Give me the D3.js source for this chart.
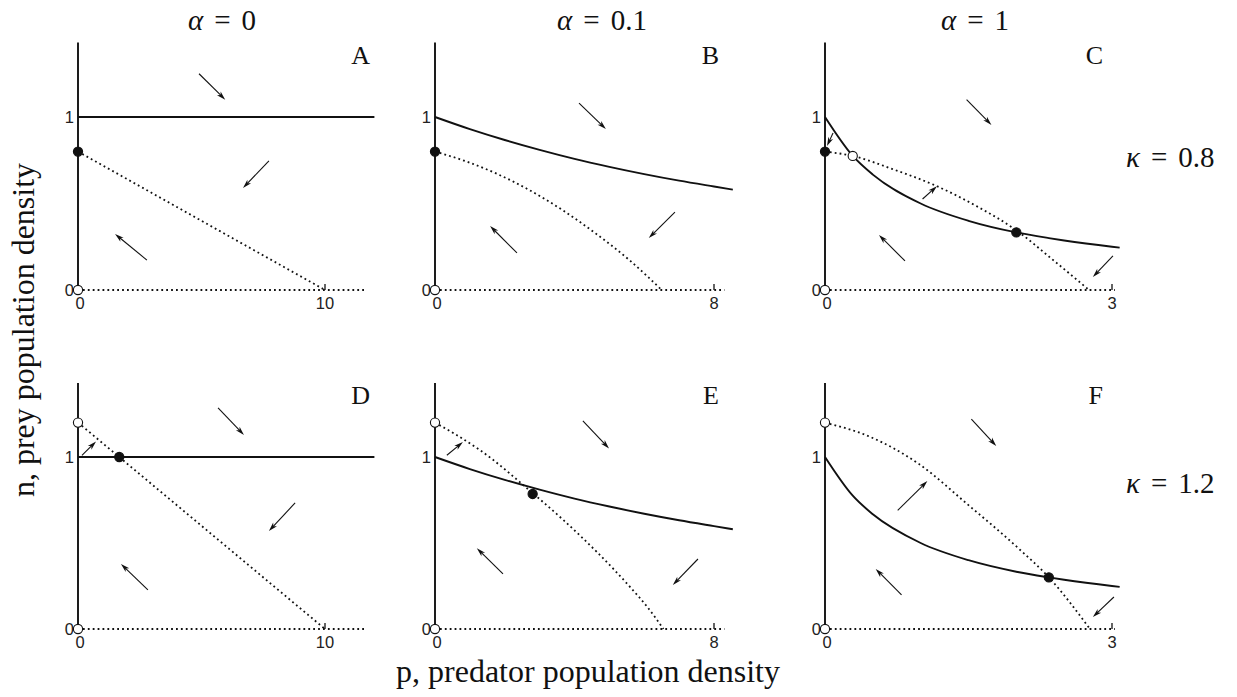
<!DOCTYPE html>
<html><head><meta charset="utf-8">
<script src="https://cdn.jsdelivr.net/npm/d3@7"></script>
<style>body{margin:0;background:#fff}svg{display:block}</style>
</head><body><svg id="c" width="1237" height="697"></svg>
<script>
// ---------- data ----------
const panelLetters = ["A","B","C","D","E","F"];
const alphaLabels = ["0","0.1","1"];
const kappaLabels = ["0.8","1.2"];
const xTickMax = [10, 8, 3];
const yTicks = [0, 1];
const baselineEnd = [11.7, 8.3, 3.03];
const nAxisTop = 1.43;

// prey isocline (solid)
const solidCol0 = [[0,1],[12,1]];
const solidCol1 = [[0,1],[1,0.93],[2,0.867],[3,0.81],[4,0.758],[5,0.712],[6,0.67],[7,0.632],[8,0.598],[8.54,0.58]];
const solidCol2 = [[0,1],[0.29,0.775],[0.5,0.667],[1,0.5],[1.5,0.4],[2,0.333],[2.34,0.3],[2.5,0.286],[3,0.25],[3.08,0.245]];

// predator isocline (dotted)
const dottedA = [[0,0.8],[10,0]];
const dottedB = [[0,0.8],[0.9,0.743],[1.77,0.672],[2.72,0.576],[3.67,0.46],[4.6,0.328],[5.59,0.17],[6.1,0.077],[6.5,0]];
const dottedC = [[0,0.8],[0.29,0.775],[0.7,0.7],[1.17,0.6],[1.6,0.48],[2.0,0.345],[2.37,0.18],[2.76,0]];
const dottedD = [[0,1.2],[10,0]];
const dottedE = [[0,1.2],[0.6,1.13],[1.29,1.04],[2.8,0.79],[3.7,0.63],[4.63,0.45],[5.59,0.245],[6.1,0.125],[6.55,0]];
const dottedF = [[0,1.2],[0.46,1.12],[0.98,0.96],[1.5,0.72],[2.02,0.47],[2.34,0.3],[2.77,0]];

// equilibria: [p, n, filled]
const eqA = [[0,0.8,1],[0,0,0]];
const eqB = [[0,0.8,1],[0,0,0]];
const eqC = [[0,0.8,1],[0.29,0.775,0],[2.0,0.333,1],[0,0,0]];
const eqD = [[0,1.2,0],[1.67,1.0,1],[0,0,0]];
const eqE = [[0,1.2,0],[2.8,0.785,1],[0,0,0]];
const eqF = [[0,1.2,0],[2.34,0.3,1],[0,0,0]];

// flow arrows: [p0, n0, p1, n1]
const arrA = [[4.9,1.25,5.96,1.10],[7.73,0.746,6.68,0.59],[2.79,0.173,1.5,0.324]];
const arrB = [[4.13,1.08,4.9,0.93],[6.88,0.45,6.13,0.30],[2.35,0.214,1.58,0.37]];
const arrC = [[1.48,1.10,1.74,0.954],[0.084,0.908,0.021,0.832],[1.02,0.526,1.17,0.60],[0.836,0.168,0.564,0.318],[3.01,0.197,2.80,0.075]];
const arrD = [[0.16,1.01,0.73,1.09],[5.67,1.285,6.72,1.128],[8.79,0.733,7.73,0.57],[2.83,0.227,1.74,0.378]];
const arrE = [[0.34,1.01,0.80,1.087],[4.24,1.21,4.99,1.05],[7.54,0.407,6.82,0.256],[1.95,0.32,1.20,0.47]];
const arrF = [[1.53,1.22,1.79,1.064],[0.76,0.69,1.07,0.86],[0.80,0.198,0.53,0.349],[3.02,0.186,2.80,0.07]];

const solids = [solidCol0, solidCol1, solidCol2];
const dotteds = [dottedA, dottedB, dottedC, dottedD, dottedE, dottedF];
const eqs = [eqA, eqB, eqC, eqD, eqE, eqF];
const arrows = [arrA, arrB, arrC, arrD, arrE, arrF];

// ---------- layout ----------
const colX = [[78,325],[435,714],[825,1112]];
const rowY = [[290,117],[629,457]];
const svg = d3.select("#c");
svg.append("rect").attr("width",1237).attr("height",697).attr("fill","#fff");

const serif = "Liberation Serif, Times New Roman, serif";
const sans = "Liberation Sans, Arial, sans-serif";
const ink = "#111";

for (let r = 0; r < 2; r++) {
  for (let c = 0; c < 3; c++) {
    const i = r*3 + c;
    const x = d3.scaleLinear().domain([0, xTickMax[c]]).range(colX[c]);
    const y = d3.scaleLinear().domain([0, 1]).range(rowY[r]);
    const g = svg.append("g");
    const line = d3.line().x(d => x(d[0])).y(d => y(d[1]));
    const curve = d3.line().x(d => x(d[0])).y(d => y(d[1])).curve(d3.curveMonotoneX);

    // baseline dotted (n = 0)
    g.append("path").attr("d", line([[0,0],[baselineEnd[c],0]]))
      .attr("fill","none").attr("stroke",ink).attr("stroke-width",1.8).attr("stroke-dasharray","1.8 3.1");
    // y axis (p = 0), solid
    g.append("path").attr("d", line([[0,0],[0,nAxisTop]]))
      .attr("fill","none").attr("stroke",ink).attr("stroke-width",1.9);
    // x tick at max
    g.append("line").attr("x1", x(xTickMax[c])).attr("x2", x(xTickMax[c]))
      .attr("y1", y(0)).attr("y2", y(0)-6).attr("stroke",ink).attr("stroke-width",1.3);
    // tick labels
    g.selectAll(".yt").data(yTicks).enter().append("text")
      .attr("x", x(0)-4).attr("y", d => y(d)+6)
      .attr("text-anchor","end").attr("font-family",sans).attr("font-size",16.5).attr("fill","#222")
      .text(d => d);
    g.selectAll(".xt").data([0, xTickMax[c]]).enter().append("text")
      .attr("x", d => x(d) + (d===0?2:0)).attr("y", y(0)+19)
      .attr("text-anchor","middle").attr("font-family",sans).attr("font-size",16.5).attr("fill","#222")
      .text(d => d);

    // predator isocline dotted
    g.append("path").attr("d", (c===0?line:curve)(dotteds[i]))
      .attr("fill","none").attr("stroke",ink).attr("stroke-width",1.8).attr("stroke-dasharray","1.8 3.1");
    // prey isocline solid
    g.append("path").attr("d", (c===0?line:curve)(solids[c]))
      .attr("fill","none").attr("stroke",ink).attr("stroke-width",1.9);

    // arrows
    arrows[i].forEach(a => {
      const x0 = x(a[0]), y0 = y(a[1]), x1 = x(a[2]), y1 = y(a[3]);
      const ang = Math.atan2(y1-y0, x1-x0);
      const L = 9, W = 2.6;
      const cs = Math.cos(ang), sn = Math.sin(ang);
      const bx = x1 - L*cs, by = y1 - L*sn;
      g.append("line").attr("x1",x0).attr("y1",y0).attr("x2",bx+3*cs).attr("y2",by+3*sn)
        .attr("stroke",ink).attr("stroke-width",1.1);
      const px = -sn, py = cs;
      g.append("path").attr("d", `M${x1},${y1}L${bx+W*px},${by+W*py}L${bx+2.5*cs},${by+2.5*sn}L${bx-W*px},${by-W*py}Z`)
        .attr("fill",ink);
    });

    // equilibria
    g.selectAll(".eq").data(eqs[i]).enter().append("circle")
      .attr("cx", d => x(d[0])).attr("cy", d => y(d[1])).attr("r", 4.6)
      .attr("fill", d => d[2] ? ink : "#fff").attr("stroke",ink).attr("stroke-width",1.1);

    // panel letter
    g.append("text").attr("x", colX[c][0] + [292,284,278][c]).attr("y", rowY[r][1] - 53)
      .attr("text-anchor","end").attr("font-family",serif).attr("font-size",26).attr("fill",ink)
      .text(panelLetters[i]);
  }
}

// column titles  (α = …)
const titleX = [222, 602, 975];
alphaLabels.forEach((t, c) => {
  const tx = svg.append("text").attr("x", titleX[c]).attr("y", 30).attr("text-anchor","middle")
    .attr("font-family",serif).attr("font-size",29).attr("fill",ink);
  tx.append("tspan").attr("font-style","italic").text("α");
  tx.append("tspan").attr("dx",11).text("=");
  tx.append("tspan").attr("dx",11).text(t);
});
// row labels (κ = …)
const kappaY = [167, 493];
kappaLabels.forEach((t, r) => {
  const tx = svg.append("text").attr("x", 1126).attr("y", kappaY[r]).attr("text-anchor","start")
    .attr("font-family",serif).attr("font-size",29).attr("fill",ink);
  tx.append("tspan").attr("font-style","italic").text("κ");
  tx.append("tspan").attr("dx",11).text("=");
  tx.append("tspan").attr("dx",11).text(t);
});

// axis titles
svg.append("text").attr("x", 588).attr("y", 682).attr("text-anchor","middle")
  .attr("font-family",serif).attr("font-size",32).attr("fill",ink)
  .text("p, predator population density");
svg.append("text").attr("transform","translate(34,330) rotate(-90)").attr("text-anchor","middle")
  .attr("font-family",serif).attr("font-size",32).attr("fill",ink)
  .text("n, prey population density");
</script></body></html>
